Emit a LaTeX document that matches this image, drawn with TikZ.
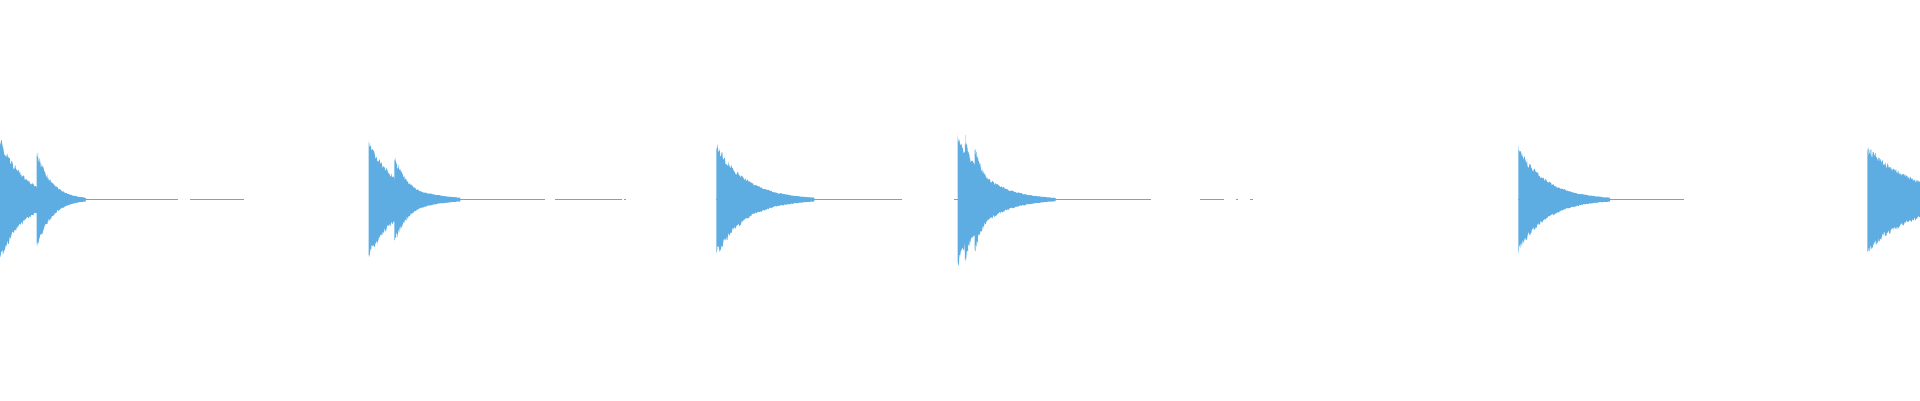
\documentclass[tikz,border=0pt]{standalone}
\usetikzlibrary{positioning}
\definecolor{wave}{RGB}{93,173,226}
% one decaying burst: start, amplitude, length, decay
\newcommand{\burst}[4]{%
  \fill[wave] plot[domain=0:#3,samples=150] ({#1+\x},{163.7+max(0.6,#2*exp(-\x/#4)*(0.82+0.18*rnd))})
    -- plot[domain=#3:0,samples=150] ({#1+\x},{163.7-max(0.6,#2*exp(-\x/#4)*(0.82+0.18*rnd))}) -- cycle;}
% flat tail line
\newcommand{\tailline}[2]{\fill[wave] (#1,163.1) rectangle (#2,164.3);}
\begin{document}
\begin{tikzpicture}[x=0.01cm,y=0.01cm]
\pgfmathsetseed{7}
\useasboundingbox (0,0) rectangle (1568,326.7);
% first
\burst{0}{52}{70}{20}
\burst{30}{42}{40}{12}
\tailline{0}{145}
\tailline{155}{199}
% second
\burst{301}{50}{75}{22}
\burst{322}{37}{40}{13}
\tailline{301}{445}
\tailline{453}{508}
\tailline{509.5}{511}
% third
\burst{585}{48}{80}{24}
\tailline{585}{737}
% fourth
\burst{782}{57}{80}{22}
\burst{788}{55}{20}{10}
\burst{796}{45}{25}{11}
\tailline{779}{940}
\tailline{980}{1000}
\tailline{1009}{1011}
\tailline{1021}{1023}
% fifth
\burst{1240}{45}{75}{23}
\tailline{1240}{1375}
% sixth
\burst{1525}{45}{43}{40}
\end{tikzpicture}
\end{document}
